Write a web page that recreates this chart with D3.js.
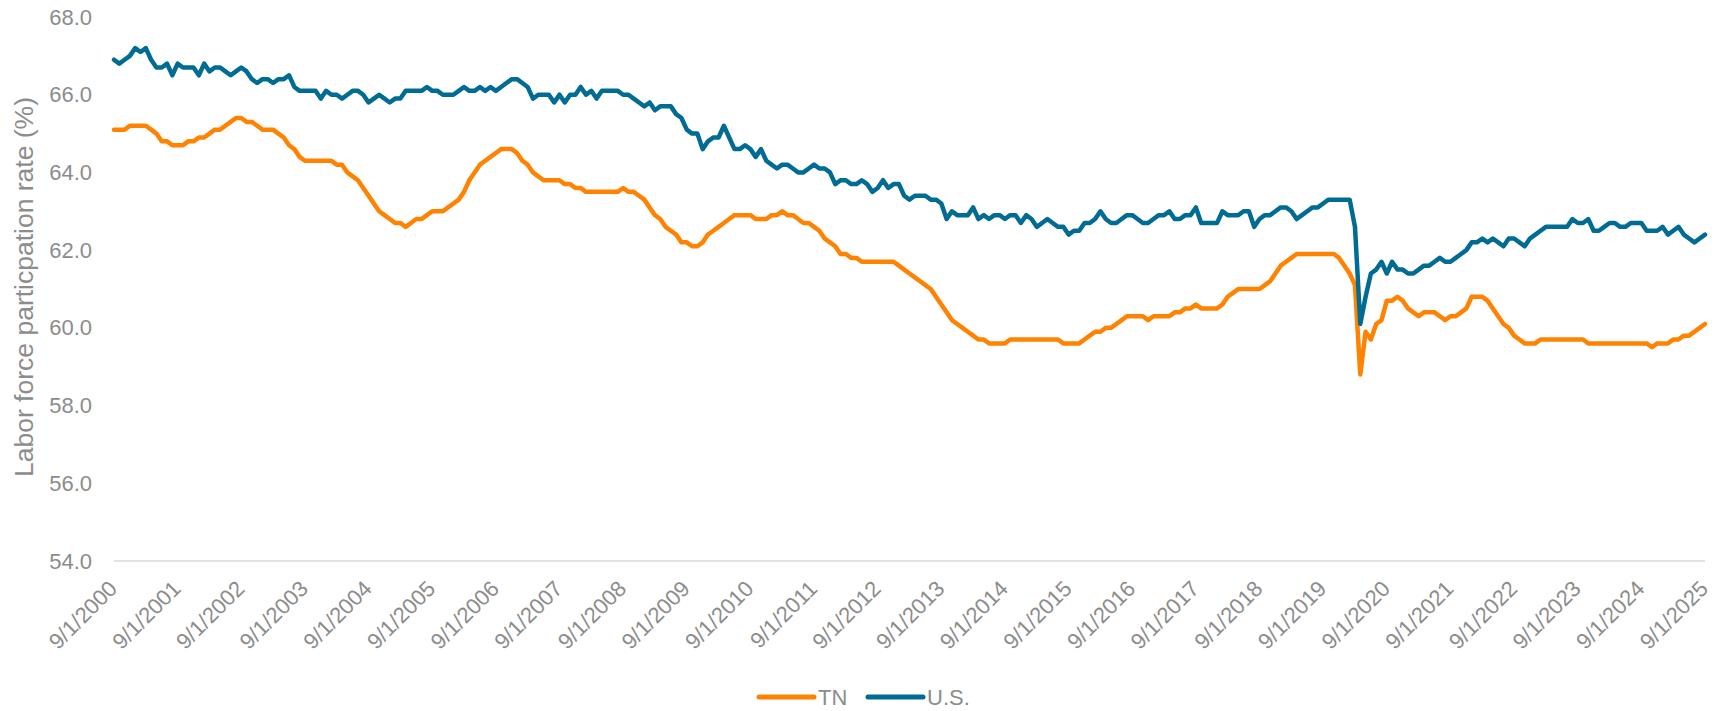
<!DOCTYPE html>
<html>
<head>
<meta charset="utf-8">
<script src="https://cdn.jsdelivr.net/npm/d3@7"></script>
<style>
  body { margin: 0; background: #fff; }
  svg { display: block; font-family: "Liberation Sans", Arial, sans-serif; }
</style>
</head>
<body>
<div id="chart"></div>
<script>
// Labor force participation rate (%), monthly, 9/1/2000 - 9/1/2025
var startMonth = new Date(2000, 8, 1);

// one row per year, Sep..Aug
var tnRate = [
    65.1, 65.1, 65.1, 65.2, 65.2, 65.2, 65.2, 65.1, 65.0, 64.8, 64.8, 64.7,
    64.7, 64.7, 64.8, 64.8, 64.9, 64.9, 65.0, 65.1, 65.1, 65.2, 65.3, 65.4,
    65.4, 65.3, 65.3, 65.2, 65.1, 65.1, 65.1, 65.0, 64.9, 64.7, 64.6, 64.4,
    64.3, 64.3, 64.3, 64.3, 64.3, 64.3, 64.2, 64.2, 64.0, 63.9, 63.8, 63.6,
    63.4, 63.2, 63.0, 62.9, 62.8, 62.7, 62.7, 62.6, 62.7, 62.8, 62.8, 62.9,
    63.0, 63.0, 63.0, 63.1, 63.2, 63.3, 63.5, 63.8, 64.0, 64.2, 64.3, 64.4,
    64.5, 64.6, 64.6, 64.6, 64.5, 64.3, 64.2, 64.0, 63.9, 63.8, 63.8, 63.8,
    63.8, 63.7, 63.7, 63.6, 63.6, 63.5, 63.5, 63.5, 63.5, 63.5, 63.5, 63.5,
    63.6, 63.5, 63.5, 63.4, 63.3, 63.1, 62.9, 62.8, 62.6, 62.5, 62.4, 62.2,
    62.2, 62.1, 62.1, 62.2, 62.4, 62.5, 62.6, 62.7, 62.8, 62.9, 62.9, 62.9,
    62.9, 62.8, 62.8, 62.8, 62.9, 62.9, 63.0, 62.9, 62.9, 62.8, 62.7, 62.7,
    62.6, 62.5, 62.3, 62.2, 62.1, 61.9, 61.9, 61.8, 61.8, 61.7, 61.7, 61.7,
    61.7, 61.7, 61.7, 61.7, 61.6, 61.5, 61.4, 61.3, 61.2, 61.1, 61.0, 60.8,
    60.6, 60.4, 60.2, 60.1, 60.0, 59.9, 59.8, 59.7, 59.7, 59.6, 59.6, 59.6,
    59.6, 59.7, 59.7, 59.7, 59.7, 59.7, 59.7, 59.7, 59.7, 59.7, 59.7, 59.6,
    59.6, 59.6, 59.6, 59.7, 59.8, 59.9, 59.9, 60.0, 60.0, 60.1, 60.2, 60.3,
    60.3, 60.3, 60.3, 60.2, 60.3, 60.3, 60.3, 60.3, 60.4, 60.4, 60.5, 60.5,
    60.6, 60.5, 60.5, 60.5, 60.5, 60.6, 60.8, 60.9, 61.0, 61.0, 61.0, 61.0,
    61.0, 61.1, 61.2, 61.4, 61.6, 61.7, 61.8, 61.9, 61.9, 61.9, 61.9, 61.9,
    61.9, 61.9, 61.9, 61.8, 61.6, 61.4, 61.1, 58.8, 59.9, 59.7, 60.1, 60.2,
    60.7, 60.7, 60.8, 60.7, 60.5, 60.4, 60.3, 60.4, 60.4, 60.4, 60.3, 60.2,
    60.3, 60.3, 60.4, 60.5, 60.8, 60.8, 60.8, 60.7, 60.5, 60.3, 60.1, 60.0,
    59.8, 59.7, 59.6, 59.6, 59.6, 59.7, 59.7, 59.7, 59.7, 59.7, 59.7, 59.7,
    59.7, 59.7, 59.6, 59.6, 59.6, 59.6, 59.6, 59.6, 59.6, 59.6, 59.6, 59.6,
    59.6, 59.6, 59.5, 59.6, 59.6, 59.6, 59.7, 59.7, 59.8, 59.8, 59.9, 60.0,
    60.1
];

var usRate = [
    66.9, 66.8, 66.9, 67.0, 67.2, 67.1, 67.2, 66.9, 66.7, 66.7, 66.8, 66.5,
    66.8, 66.7, 66.7, 66.7, 66.5, 66.8, 66.6, 66.7, 66.7, 66.6, 66.5, 66.6,
    66.7, 66.6, 66.4, 66.3, 66.4, 66.4, 66.3, 66.4, 66.4, 66.5, 66.2, 66.1,
    66.1, 66.1, 66.1, 65.9, 66.1, 66.0, 66.0, 65.9, 66.0, 66.1, 66.1, 66.0,
    65.8, 65.9, 66.0, 65.9, 65.8, 65.9, 65.9, 66.1, 66.1, 66.1, 66.1, 66.2,
    66.1, 66.1, 66.0, 66.0, 66.0, 66.1, 66.2, 66.1, 66.1, 66.2, 66.1, 66.2,
    66.1, 66.2, 66.3, 66.4, 66.4, 66.3, 66.2, 65.9, 66.0, 66.0, 66.0, 65.8,
    66.0, 65.8, 66.0, 66.0, 66.2, 66.0, 66.1, 65.9, 66.1, 66.1, 66.1, 66.1,
    66.0, 66.0, 65.9, 65.8, 65.7, 65.8, 65.6, 65.7, 65.7, 65.7, 65.5, 65.4,
    65.1, 65.0, 65.0, 64.6, 64.8, 64.9, 64.9, 65.2, 64.9, 64.6, 64.6, 64.7,
    64.6, 64.4, 64.6, 64.3, 64.2, 64.1, 64.2, 64.2, 64.1, 64.0, 64.0, 64.1,
    64.2, 64.1, 64.1, 64.0, 63.7, 63.8, 63.8, 63.7, 63.7, 63.8, 63.7, 63.5,
    63.6, 63.8, 63.6, 63.7, 63.7, 63.4, 63.3, 63.4, 63.4, 63.4, 63.3, 63.3,
    63.2, 62.8, 63.0, 62.9, 62.9, 62.9, 63.1, 62.8, 62.9, 62.8, 62.9, 62.9,
    62.8, 62.9, 62.9, 62.7, 62.9, 62.8, 62.6, 62.7, 62.8, 62.7, 62.6, 62.6,
    62.4, 62.5, 62.5, 62.7, 62.7, 62.8, 63.0, 62.8, 62.7, 62.7, 62.8, 62.9,
    62.9, 62.8, 62.7, 62.7, 62.8, 62.9, 62.9, 63.0, 62.8, 62.8, 62.9, 62.9,
    63.1, 62.7, 62.7, 62.7, 62.7, 63.0, 62.9, 62.9, 62.9, 63.0, 63.0, 62.6,
    62.8, 62.9, 62.9, 63.0, 63.1, 63.1, 63.0, 62.8, 62.9, 63.0, 63.1, 63.1,
    63.2, 63.3, 63.3, 63.3, 63.3, 63.3, 62.6, 60.1, 60.8, 61.4, 61.5, 61.7,
    61.4, 61.7, 61.5, 61.5, 61.4, 61.4, 61.5, 61.6, 61.6, 61.7, 61.8, 61.7,
    61.7, 61.8, 61.9, 62.0, 62.2, 62.2, 62.3, 62.2, 62.3, 62.2, 62.1, 62.3,
    62.3, 62.2, 62.1, 62.3, 62.4, 62.5, 62.6, 62.6, 62.6, 62.6, 62.6, 62.8,
    62.7, 62.7, 62.8, 62.5, 62.5, 62.6, 62.7, 62.7, 62.6, 62.6, 62.7, 62.7,
    62.7, 62.5, 62.5, 62.5, 62.6, 62.4, 62.5, 62.6, 62.4, 62.3, 62.2, 62.3,
    62.4
];

var yTicks = [54, 56, 58, 60, 62, 64, 66, 68];
var seriesNames = ["TN", "U.S."];
var seriesColors = ["#FF8200", "#006C93"];

// Basic size information
var margin = {top: 17, right: 16, bottom: 150, left: 114},
    width = 1721 - margin.left - margin.right,
    height = 711 - margin.top - margin.bottom,
    textColor = "#8c8c8c";

var x = d3.scaleLinear()
    .domain([0, tnRate.length - 1])
    .range([0, width]);

var y = d3.scaleLinear()
    .domain([d3.min(yTicks), d3.max(yTicks)])
    .range([height, 0]);

var formatDate = d3.timeFormat("%-m/%-d/%Y");

var svg = d3.select("#chart")
    .append("svg")
        .attr("width", width + margin.left + margin.right)
        .attr("height", height + margin.top + margin.bottom)
    .append("g")
        .attr("transform", "translate(" + margin.left + "," + margin.top + ")");

// Baseline at 54.0
svg.append("line")
    .attr("x1", 0)
    .attr("x2", width)
    .attr("y1", y(54))
    .attr("y2", y(54))
    .attr("stroke", "#d9d9d9")
    .attr("stroke-width", 1.5);

// Y axis
var yAxis = svg.append("g")
    .call(d3.axisLeft(y)
        .tickValues(yTicks)
        .tickSize(0)
        .tickPadding(22)
        .tickFormat(d3.format(".1f")));
yAxis.select(".domain").remove();
yAxis.selectAll("text")
    .attr("fill", textColor)
    .style("font-size", "22px")
    .style("font-family", "Liberation Sans, Arial, sans-serif");

// X axis, one label per year
var xAxis = svg.append("g")
    .attr("transform", "translate(0," + height + ")")
    .call(d3.axisBottom(x)
        .tickValues(d3.range(0, tnRate.length, 12))
        .tickSize(0)
        .tickFormat(function (i) { return formatDate(d3.timeMonth.offset(startMonth, i)); }));
xAxis.select(".domain").remove();
xAxis.selectAll("text")
    .attr("x", 0)
    .attr("y", 0)
    .attr("dy", 0)
    .attr("text-anchor", "end")
    .attr("transform", "translate(4,29) rotate(-45)")
    .attr("fill", textColor)
    .style("font-size", "22px")
    .style("font-family", "Liberation Sans, Arial, sans-serif");

// Axis title
svg.append("text")
    .attr("transform", "translate(" + (33 - margin.left) + "," + (height / 2 - 2) + ") rotate(-90)")
    .attr("text-anchor", "middle")
    .attr("fill", textColor)
    .style("font-size", "26.5px")
    .text("Labor force particpation rate (%)");

// Lines
var line = d3.line()
    .x(function (d, i) { return x(i); })
    .y(function (d) { return y(d); });

[tnRate, usRate].forEach(function (series, k) {
    svg.append("path")
        .datum(series)
        .attr("fill", "none")
        .attr("stroke", seriesColors[k])
        .attr("stroke-width", 4.5)
        .attr("stroke-linejoin", "round")
        .attr("stroke-linecap", "round")
        .attr("d", line);
});

// Legend
var legend = svg.append("g")
    .attr("transform", "translate(" + (759 - margin.left) + "," + (697 - margin.top) + ")");

var item = legend.selectAll("g")
    .data(seriesNames)
    .enter().append("g")
    .attr("transform", function (d, i) { return "translate(" + (i * 109) + ",0)"; });

item.append("line")
    .attr("x1", 0)
    .attr("x2", 55)
    .attr("stroke", function (d, i) { return seriesColors[i]; })
    .attr("stroke-width", 5)
    .attr("stroke-linecap", "round");

item.append("text")
    .attr("x", 59)
    .attr("y", 8)
    .attr("fill", textColor)
    .style("font-size", "22px")
    .text(function (d) { return d; });
</script>
</body>
</html>
